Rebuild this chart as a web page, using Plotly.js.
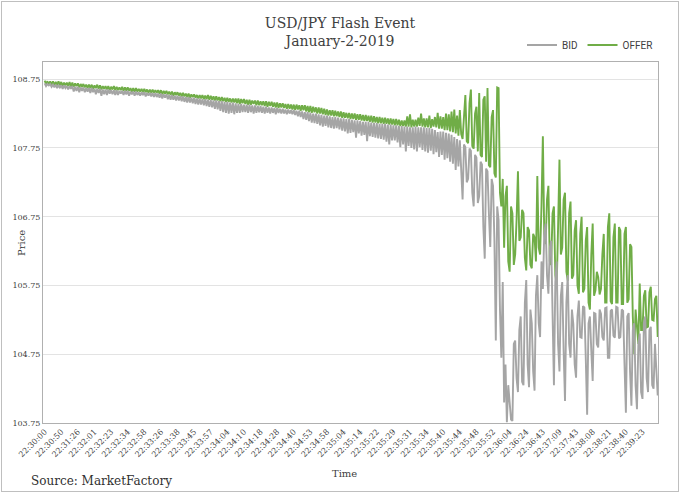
<!DOCTYPE html>
<html>
<head>
<meta charset="utf-8">
<script src="https://cdn.plot.ly/plotly-3.0.1.min.js"></script>
<style>
  html, body { margin: 0; padding: 0; background: #ffffff; }
  #wrap { position: relative; width: 680px; height: 493px; }
  #chart { width: 680px; height: 493px; }
  #frame { position: absolute; left: 1px; top: 1px; width: 676px; height: 489px;
           border: 1px solid #bfbfbf; pointer-events: none; }
</style>
</head>
<body>
<div id="wrap"><div id="chart"></div><div id="frame"></div></div>
<script>
// Time tick labels (one every TICK_STEP samples)
const timeLabels = ["22:30:00","22:30:50","22:31:26","22:32:01","22:32:23","22:32:34","22:32:58",
  "22:33:26","22:33:38","22:33:45","22:33:57","22:34:04","22:34:10","22:34:18","22:34:28",
  "22:34:40","22:34:53","22:34:58","22:35:04","22:35:14","22:35:22","22:35:29","22:35:31",
  "22:35:34","22:35:40","22:35:44","22:35:48","22:35:52","22:36:04","22:36:24","22:36:43",
  "22:37:09","22:37:43","22:38:08","22:38:21","22:38:40","22:39:23"];

const offer = [
  108.73,108.68,108.72,108.67, 108.72,108.67,108.72,108.66, 108.71,108.66,108.72,108.66,
  108.71,108.65,108.70,108.66, 108.70,108.65,108.71,108.64, 108.70,108.64,108.69,108.65,
  108.69,108.63,108.68,108.64, 108.68,108.63,108.67,108.62, 108.67,108.62,108.67,108.61,
  108.66,108.62,108.67,108.61, 108.66,108.60,108.65,108.61, 108.65,108.60,108.65,108.59,
  108.64,108.60,108.65,108.59, 108.64,108.59,108.63,108.59, 108.64,108.58,108.63,108.58,
  108.63,108.58,108.62,108.57, 108.62,108.57,108.62,108.57, 108.61,108.57,108.61,108.56,
  108.61,108.56,108.60,108.55, 108.60,108.55,108.60,108.55, 108.59,108.55,108.59,108.54,
  108.59,108.53,108.58,108.54, 108.58,108.53,108.57,108.52, 108.57,108.51,108.56,108.52,
  108.56,108.51,108.55,108.50, 108.55,108.50,108.54,108.49, 108.54,108.48,108.53,108.49,
  108.53,108.48,108.52,108.47, 108.52,108.47,108.52,108.46, 108.51,108.46,108.52,108.45,
  108.51,108.45,108.50,108.44, 108.50,108.44,108.49,108.43, 108.49,108.43,108.48,108.42,
  108.48,108.42,108.47,108.41, 108.47,108.41,108.47,108.40, 108.47,108.39,108.46,108.40,
  108.46,108.39,108.45,108.38, 108.45,108.38,108.44,108.39, 108.44,108.37,108.44,108.37,
  108.43,108.37,108.43,108.36, 108.43,108.35,108.42,108.36, 108.42,108.35,108.41,108.34,
  108.41,108.33,108.40,108.34, 108.40,108.33,108.39,108.32, 108.39,108.32,108.38,108.31,
  108.38,108.30,108.38,108.31, 108.37,108.29,108.37,108.30, 108.37,108.28,108.36,108.27,
  108.36,108.26,108.35,108.27, 108.34,108.25,108.34,108.25, 108.33,108.24,108.32,108.23,
  108.31,108.22,108.30,108.22, 108.30,108.21,108.29,108.21, 108.28,108.20,108.28,108.19,
  108.27,108.19,108.26,108.18, 108.26,108.17,108.25,108.17, 108.25,108.16,108.24,108.16,
  108.24,108.15,108.23,108.14, 108.23,108.14,108.22,108.13, 108.22,108.12,108.21,108.12,
  108.20,108.11,108.20,108.11, 108.19,108.10,108.19,108.10, 108.18,108.09,108.18,108.09,
  108.17,108.08,108.17,108.08, 108.16,108.07,108.15,108.07, 108.15,108.06,108.21,108.06,
  108.24,108.05,108.16,108.06, 108.16,108.06,108.19,108.07, 108.25,108.06,108.18,108.05,
  108.18,108.05,108.22,108.04, 108.17,108.06,108.20,108.05, 108.26,108.03,108.21,108.03,
  108.20,108.01,108.25,108.01, 108.24,107.99,108.28,107.98, 108.31,107.96,108.22,107.93,
  108.30,107.95,107.88,108.20, 108.52,107.85,107.82,108.40, 108.60,107.78,107.74,108.25,
  108.35,107.70,108.55,107.65, 107.62,108.45,108.50,107.55, 108.62,107.50,107.47,108.20,
  108.30,107.38,107.32,108.63, 108.62,107.10,106.90,107.30, 106.30,107.05,107.20,106.10,
  105.95,106.90,106.80,106.05, 106.20,106.70,107.41,106.40, 106.45,106.85,106.80,106.15,
  105.97,106.60,106.55,106.05, 106.00,106.50,106.45,106.10, 107.34,106.30,106.20,106.90,
  107.92,106.50,106.35,107.00, 107.20,106.10,106.05,106.80, 106.90,105.90,105.75,106.60,
  107.58,106.20,106.30,107.00, 107.10,105.95,105.82,106.80, 106.97,105.85,105.90,106.55,
  106.70,105.75,105.63,106.50, 106.75,105.65,105.70,106.40, 106.60,105.50,105.40,106.20,
  106.65,105.60,105.68,105.95, 105.87,105.62,105.70,106.20, 106.50,105.50,105.50,106.60,
  106.80,105.52,105.48,106.45, 106.65,105.50,105.50,106.60, 106.55,105.48,105.48,106.50,
  106.60,105.50,105.55,106.35, 106.31,105.30,104.75,105.40, 105.20,104.90,105.78,105.10,
  105.10,105.60,105.68,105.14, 105.15,105.65,105.73,105.25, 105.24,105.55,105.60,105.00
];

const bid = [
  108.69,108.65,108.68,108.66, 108.68,108.64,108.67,108.63, 108.67,108.62,108.66,108.63,
  108.66,108.61,108.66,108.62, 108.65,108.60,108.65,108.61, 108.65,108.57,108.64,108.58,
  108.64,108.56,108.63,108.58, 108.63,108.56,108.62,108.57, 108.62,108.55,108.62,108.56,
  108.61,108.53,108.61,108.55, 108.61,108.51,108.60,108.53, 108.60,108.52,108.60,108.54,
  108.59,108.53,108.59,108.52, 108.59,108.52,108.58,108.54, 108.58,108.52,108.58,108.53,
  108.58,108.51,108.57,108.53, 108.57,108.51,108.57,108.52, 108.56,108.51,108.56,108.52,
  108.56,108.50,108.55,108.51, 108.55,108.50,108.55,108.49, 108.55,108.49,108.54,108.48,
  108.54,108.47,108.53,108.48, 108.53,108.46,108.52,108.45, 108.52,108.45,108.51,108.44,
  108.51,108.44,108.50,108.43, 108.50,108.42,108.49,108.41, 108.49,108.41,108.48,108.40,
  108.48,108.39,108.47,108.38, 108.47,108.38,108.46,108.37, 108.46,108.36,108.45,108.35,
  108.45,108.34,108.44,108.32, 108.44,108.31,108.43,108.29, 108.43,108.27,108.42,108.26,
  108.42,108.25,108.41,108.26, 108.41,108.24,108.40,108.26, 108.39,108.26,108.39,108.27,
  108.38,108.27,108.38,108.26, 108.38,108.27,108.37,108.25, 108.37,108.26,108.36,108.27,
  108.36,108.26,108.35,108.25, 108.35,108.26,108.34,108.25, 108.34,108.26,108.33,108.24,
  108.33,108.26,108.32,108.25, 108.32,108.25,108.31,108.24, 108.31,108.25,108.30,108.24,
  108.30,108.23,108.29,108.21, 108.29,108.20,108.28,108.17, 108.27,108.16,108.27,108.14,
  108.26,108.12,108.25,108.11, 108.25,108.10,108.24,108.08, 108.23,108.06,108.22,108.07,
  108.22,108.05,108.21,108.04, 108.20,108.03,108.20,108.04, 108.19,108.02,108.18,108.00,
  108.18,107.99,108.17,107.96, 108.17,107.97,108.16,107.98, 108.15,107.90,108.15,107.96,
  108.14,107.93,108.13,107.94, 108.13,107.85,108.13,107.92, 108.12,107.91,108.11,107.90,
  108.11,107.89,108.10,107.88, 108.10,107.87,108.10,107.84, 108.09,107.80,108.09,107.86,
  108.08,107.86,108.08,107.83, 108.07,107.76,108.07,107.80, 108.06,107.70,108.06,107.78,
  108.05,107.75,108.05,107.73, 108.06,107.70,108.05,107.76, 108.05,107.72,108.05,107.70,
  108.04,107.68,108.04,107.71, 108.03,107.66,108.01,107.69, 107.98,107.62,107.99,107.65,
  107.99,107.58,107.97,107.60, 107.96,107.55,107.94,107.52, 107.91,107.43,107.88,107.48,
  107.86,107.40,107.00,107.80, 107.76,107.25,107.30,107.74, 107.71,107.10,106.90,107.65,
  107.61,106.95,107.05,107.55, 107.51,106.60,106.14,107.45, 107.41,106.80,106.31,107.30,
  107.20,106.40,104.95,106.90, 106.70,105.40,104.70,105.80, 104.05,104.60,103.76,104.30,
  104.10,103.80,103.78,104.90, 104.95,104.40,104.20,105.10, 105.30,104.35,104.30,105.50,
  105.83,104.60,104.27,105.40, 105.20,104.50,104.22,105.60, 105.90,105.20,105.00,106.10,
  105.70,106.50,106.65,105.90, 105.63,106.30,106.40,105.20, 104.30,105.80,106.10,104.90,
  104.50,105.60,105.80,104.80, 104.07,105.50,105.90,104.90, 104.70,105.40,105.19,104.60,
  104.41,105.30,105.53,105.00, 104.99,105.45,105.43,104.70, 103.87,105.20,105.30,104.80,
  104.36,105.35,105.34,104.90, 104.85,105.40,105.34,105.00, 104.95,105.42,105.43,104.70,
  104.70,105.38,105.40,105.02, 104.99,105.44,105.43,104.98, 105.00,105.40,105.38,104.60,
  103.90,105.30,105.35,104.50, 104.00,105.10,105.20,104.30, 103.95,104.90,105.05,104.20,
  104.10,105.20,105.30,104.40, 104.20,105.10,105.15,104.30, 104.25,104.90,104.41,104.15
];

// Price axis tick labels
const priceTicks = [103.75, 104.75, 105.75, 106.75, 107.75, 108.75];

const TICK_STEP = 12;
const xIdx = bid.map((_, i) => i);
const tickPos = timeLabels.map((_, j) => j * TICK_STEP);

const serif = "DejaVu Serif, Liberation Serif, serif";

const traces = [
  { type: "scatter", mode: "lines", name: "OFFER", x: xIdx, y: offer,
    line: { color: "#70ad47", width: 1.9 }, hoverinfo: "skip" },
  { type: "scatter", mode: "lines", name: "BID", x: xIdx, y: bid,
    line: { color: "#a5a5a5", width: 1.9 }, hoverinfo: "skip" }
];

const layout = {
  width: 680, height: 493,
  margin: { l: 43, r: 22, t: 62, b: 70 },
  paper_bgcolor: "#ffffff", plot_bgcolor: "#ffffff",
  showlegend: true,
  title: {
    text: "USD/JPY Flash Event<br>January-2-2019",
    font: { family: serif, size: 14, color: "#404040" },
    x: 0.5, xref: "container", xanchor: "center",
    y: 0.944, yref: "container", yanchor: "top"
  },
  legend: {
    orientation: "h", traceorder: "reversed",
    x: 1.0, xanchor: "right", y: 1.047, yanchor: "middle",
    font: { family: "Liberation Sans Narrow, Roboto, sans-serif", size: 10, color: "#404040" },
    itemwidth: 30, bgcolor: "rgba(0,0,0,0)"
  },
  xaxis: {
    type: "linear", range: [-1.2, bid.length - 0.8],
    tickmode: "array", tickvals: tickPos, ticktext: timeLabels,
    tickangle: -45, tickfont: { family: serif, size: 8, color: "#404040" },
    showgrid: false, zeroline: false, ticks: "",
    showline: true, mirror: true, linecolor: "#b0b0b0", linewidth: 1
  },
  yaxis: {
    range: [103.75, 109.0],
    tickmode: "array", tickvals: priceTicks,
    ticktext: priceTicks.map(v => v.toFixed(2)),
    tickfont: { family: serif, size: 8, color: "#404040" },
    showgrid: true, gridcolor: "#e3e3e3", gridwidth: 1,
    zeroline: false, ticks: "",
    showline: true, mirror: true, linecolor: "#b0b0b0", linewidth: 1
  },
  annotations: [
    { text: "Price", xref: "paper", yref: "paper", x: -0.035, y: 0.5,
      textangle: -90, showarrow: false, xanchor: "center", yanchor: "middle",
      font: { family: serif, size: 10, color: "#404040" } },
    { text: "Time", xref: "paper", yref: "paper", x: 0.49, y: -0.118,
      showarrow: false, xanchor: "center", yanchor: "top",
      font: { family: serif, size: 10, color: "#404040" } },
    { text: "Source: MarketFactory", xref: "paper", yref: "paper", x: -0.022, y: -0.135,
      showarrow: false, xanchor: "left", yanchor: "top",
      font: { family: serif, size: 12, color: "#303030" } }
  ]
};

Plotly.newPlot("chart", traces, layout, { displayModeBar: false, staticPlot: true });
</script>
</body>
</html>
